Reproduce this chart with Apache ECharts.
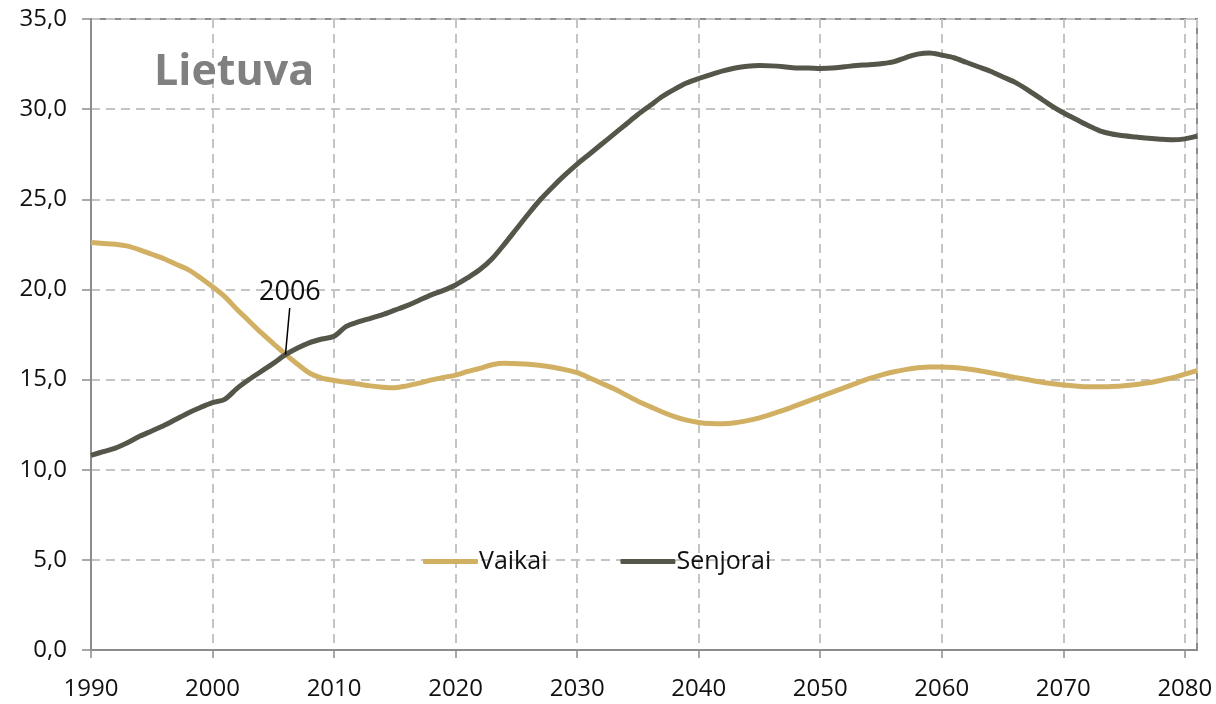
<!DOCTYPE html>
<html><head><meta charset="utf-8">
<script src="https://cdn.jsdelivr.net/npm/echarts@6/dist/echarts.min.js"></script>
<style>html,body{margin:0;padding:0;background:#fff}#c{width:1216px;height:704px}</style>
</head><body><div id="c"></div>
<script>
const startYear = 1990;
const vaikai = [22.6,22.55,22.5,22.4,22.2,21.95,21.7,21.4,21.1,20.65,
20.15,19.6,18.9,18.25,17.6,17.0,16.4,15.85,15.35,15.08,
14.95,14.85,14.75,14.65,14.58,14.55,14.65,14.8,14.98,15.12,
15.25,15.45,15.62,15.82,15.9,15.88,15.85,15.78,15.68,15.55,
15.38,15.1,14.8,14.5,14.15,13.8,13.5,13.2,12.95,12.75,
12.62,12.56,12.55,12.6,12.72,12.88,13.08,13.3,13.55,13.8,
14.05,14.3,14.55,14.8,15.05,15.25,15.42,15.55,15.65,15.7,
15.7,15.67,15.6,15.5,15.38,15.25,15.12,15.0,14.88,14.78,
14.7,14.64,14.6,14.6,14.62,14.66,14.73,14.82,14.95,15.1,
15.3,15.5];
const senjorai = [10.8,11.0,11.2,11.5,11.85,12.15,12.45,12.8,13.15,13.45,
13.72,13.9,14.5,15.0,15.45,15.9,16.38,16.75,17.05,17.25,
17.4,17.95,18.2,18.4,18.6,18.85,19.1,19.4,19.7,19.95,
20.25,20.65,21.1,21.7,22.5,23.35,24.2,25.0,25.7,26.35,
26.95,27.5,28.05,28.6,29.15,29.7,30.2,30.7,31.1,31.45,
31.7,31.92,32.12,32.28,32.38,32.42,32.4,32.35,32.28,32.28,
32.26,32.28,32.35,32.42,32.46,32.52,32.62,32.85,33.05,33.12,
33.0,32.85,32.6,32.35,32.1,31.8,31.5,31.1,30.65,30.2,
29.8,29.45,29.1,28.8,28.62,28.52,28.45,28.38,28.33,28.3,
28.35,28.5];
const seriesNames = ['Vaikai','Senjorai'];
const title = 'Lietuva';
const annotationText = '2006';
const annotationFrom = [2006, 16.38];
const annotationTo = [2006.35, 18.97];

const toPairs = arr => arr.map((v,i)=>[startYear+i, v]);
const fmt = v => v.toFixed(1).replace('.', ',');
const FONT = '"Open Sans", "Noto Sans", sans-serif';

const chart = echarts.init(document.getElementById('c'));
chart.setOption({
  animation:false,
  backgroundColor:'#fff',
  title:{text:title,left:149,top:46,textStyle:{fontFamily:FONT,fontSize:43,fontWeight:'bold',color:'#808080'}},
  legend:{data:seriesNames,left:418,top:544,itemWidth:55,itemHeight:5,itemGap:73,icon:'roundRect',
    textStyle:{fontFamily:FONT,fontSize:25,color:'#111',padding:[0,0,0,-4]}},
  grid:{left:91,right:19,top:19,bottom:54,show:true,borderColor:'#8c8c8c',borderWidth:2,backgroundColor:'transparent'},
  xAxis:{type:'value',min:1990,max:2081,interval:10,
    axisLine:{show:true,lineStyle:{color:'#8c8c8c',width:2}},
    axisTick:{show:true,length:8,lineStyle:{color:'#8c8c8c',width:1.5}},
    axisLabel:{showMaxLabel:false,margin:27,fontFamily:FONT,fontSize:24,color:'#111',formatter:v=>String(v)},
    splitLine:{show:true,lineStyle:{color:'#c4c4c4',width:2,type:[9,6]}}},
  yAxis:{type:'value',min:0,max:35,interval:5,
    axisLine:{show:true,lineStyle:{color:'#8c8c8c',width:2}},
    axisTick:{show:true,length:9,lineStyle:{color:'#8c8c8c',width:1.5}},
    axisLabel:{margin:24,fontFamily:FONT,fontSize:24,color:'#111',formatter:fmt},
    splitLine:{show:true,lineStyle:{color:'#c4c4c4',width:2,type:[9,6]}}},
  series:[
    {name:seriesNames[0],type:'line',data:toPairs(vaikai),showSymbol:false,smooth:0.3,
      color:'#d2b063',lineStyle:{width:5,color:'#d2b063'},z:3},
    {name:seriesNames[1],type:'line',data:toPairs(senjorai),showSymbol:false,smooth:0.3,
      color:'#55554a',lineStyle:{width:5,color:'#55554a'},z:4,
      markLine:{silent:true,symbol:['none','none'],
        lineStyle:{color:'#000',width:1.5,type:'solid'},
        label:{show:true,position:'end',formatter:annotationText,fontFamily:FONT,fontSize:27,color:'#111',distance:2},
        data:[[{coord:annotationFrom},{coord:annotationTo}]]}}
  ]
});
</script></body></html>
